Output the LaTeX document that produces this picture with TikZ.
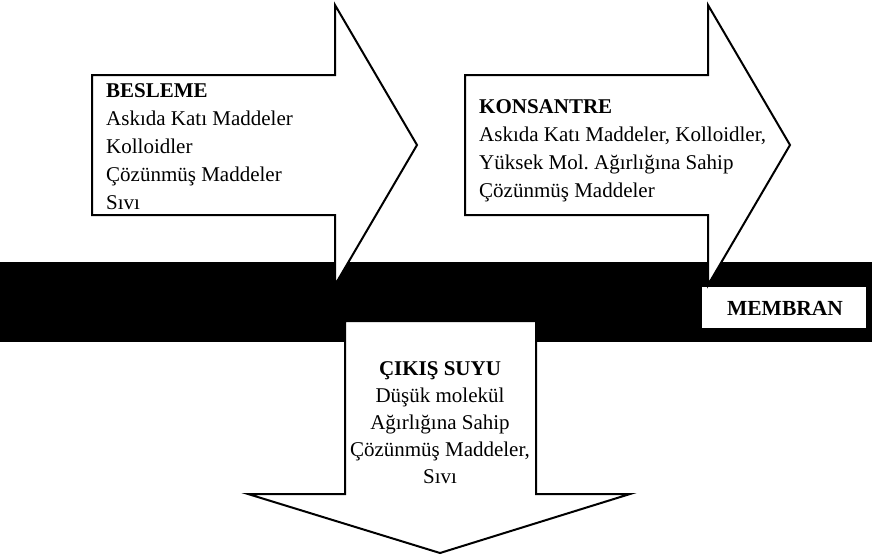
\documentclass[tikz,border=0pt]{standalone}
\usepackage{fontspec}
\setmainfont{Liberation Serif}
\usepackage{tikz}
\frenchspacing
\newcommand{\drawFlowRight}[1]{\draw [flowline, shift={(#1,0)}] (92,75) -- (335,75) -- (335,5) -- (417,145) -- (335,285) -- (335,215) -- (92,215) -- cycle}
\newcommand{\drawFlowDown}{\draw [flowline] (345,321) -- (536,321) -- (536,494) -- (630,494) -- (440,553) -- (248,494) -- (345,494) -- cycle}
\tikzset{
    flowline/.style={black, line width=2, fill=white, line join=miter},
    flowtext/.style={font=\fontsize{21}{28}\selectfont, align=left, inner sep=0pt, anchor=north west},
}

\begin{document}
\begin{tikzpicture}[x=1pt, y=-1pt]
    \useasboundingbox (0,0) rectangle (872,555);

    %membrane band
    \fill [black] (0,262) rectangle (872,342);
    \fill [white] (702,287) rectangle (866,328);
    \node [font=\fontsize{21.5}{24}\selectfont\bfseries, inner sep=0pt] (membran) at (785,308) {MEMBRAN};

    %for besleme
    \drawFlowRight{0};
    \node [flowtext] (besleme) at (106,83) {\textbf{BESLEME}\\Askıda Katı Maddeler\\Kolloidler\\Çözünmüş Maddeler\\Sıvı};

    %for konsantre
    \drawFlowRight{373};
    \node [flowtext] (konsantre) at (479,99) {\textbf{KONSANTRE}\\Askıda Katı Maddeler, Kolloidler,\\Yüksek Mol.\ Ağırlığına Sahip\\Çözünmüş Maddeler};

    %for cikis suyu
    \drawFlowDown;
    \node [flowtext, align=center, anchor=north, font=\fontsize{21}{27}\selectfont] (cikis) at (440,361) {\textbf{ÇIKIŞ SUYU}\\Düşük molekül\\Ağırlığına Sahip\\Çözünmüş Maddeler,\\Sıvı};

\end{tikzpicture}
\end{document}
